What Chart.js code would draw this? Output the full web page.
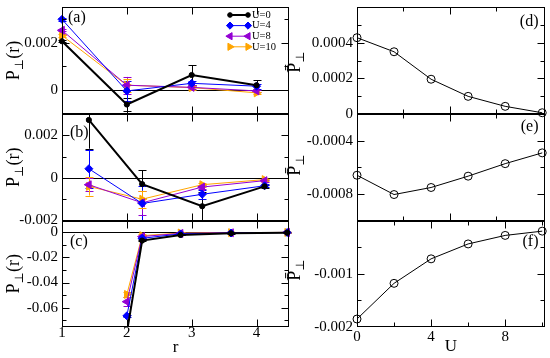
<!DOCTYPE html>
<html><head><meta charset="utf-8">
<script src="https://cdn.jsdelivr.net/npm/chart.js@4"></script>
<style>
html,body{margin:0;padding:0;background:#fff;}
#wrap{position:relative;width:550px;height:358px;overflow:hidden;}
canvas{position:absolute;left:0;top:0;}
</style></head><body>
<div id="wrap">
<canvas id="ca" width="550" height="358"></canvas>
<canvas id="cb" width="550" height="358"></canvas>
<canvas id="cc" width="550" height="358"></canvas>
<canvas id="cd" width="550" height="358"></canvas>
<canvas id="ce" width="550" height="358"></canvas>
<canvas id="cf" width="550" height="358"></canvas>
</div>
<script>
// ---------------- data ----------------
const seriesNames = ['U=0', 'U=4', 'U=8', 'U=10'];

// panel (a)
const rA = [1, 2, 3, 4];
const aU0 = [0.00206, -0.00060, 0.00064, 0.00021];
const aU4 = [0.00298, -0.00003, 0.00029, 0.00017];
const aU8 = [0.00252, 0.00021, 0.00012, -0.00003];
const aU10 = [0.00230, 0.00021, 0.00011, -0.00011];
const aErrU0 = [0.00005, 0.00028, 0.00040, 0.00021];
const aErrU4 = [0.00005, 0.00043, 0.00010, 0.00010];
const aErrU8 = [0.00005, 0.00035, 0.00008, 0.00005];
const aErrU10 = [0.00005, 0.00028, 0.00008, 0.00005];

// panel (b)
const rB = [1.414, 2.236, 3.162, 4.123];
const bU0 = [0.00272, -0.00029, -0.00133, -0.00040];
const bU4 = [0.00043, -0.00120, -0.00077, -0.00037];
const bU8 = [-0.00032, -0.00117, -0.00043, -0.00013];
const bU10 = [-0.00040, -0.00100, -0.00032, -0.00008];
const bErrU0 = [0.00135, 0.00066, 0.00067, 0.00008];
const bErrU4 = [0.00090, 0.00080, 0.00020, 0.00008];
const bErrU8 = [0.00030, 0.00056, 0.00010, 0.00005];
const bErrU10 = [0.00043, 0.00040, 0.00010, 0.00005];

// panel (c)
const rC = [2, 2.236, 2.828, 3.606, 4.472];
const cU0 = [-0.0800, -0.0065, -0.0020, -0.0007, -0.0002];
const cU4 = [-0.0666, -0.0047, -0.0012, -0.0005, -0.0001];
const cU8 = [-0.0553, -0.0033, -0.0008, -0.0003, 0.0000];
const cU10 = [-0.0495, -0.0026, -0.0005, -0.0002, 0.0000];
const cErrU0 = [0.0005, 0.0005, 0.0003, 0.0003, 0.0003];
const cErrU4 = [0.0010, 0.0006, 0.0003, 0.0003, 0.0003];
const cErrU8 = [0.0035, 0.0008, 0.0004, 0.0004, 0.0004];
const cErrU10 = [0.0022, 0.0010, 0.0006, 0.0006, 0.0006];

// panels (d) (e) (f)
const uVals = [0, 2, 4, 6, 8, 10];
const dVals = [0.000428, 0.000349, 0.000195, 0.000099, 0.000043, 0.000007];
const eVals = [-0.000660, -0.000805, -0.000752, -0.000667, -0.000573, -0.000492];
const fVals = [-0.00185, -0.00118, -0.00072, -0.00044, -0.00028, -0.00020];

// tick values / labels
const xTicksLeft = [1, 2, 3, 4];
const xLabelsLeft = ['1', '2', '3', '4'];
const xTicksRight = [0, 4, 8];
const xLabelsRight = ['0', '4', '8'];
const yTicksA = [0, 0.002];            const yLabelsA = ['0', '0.002'];
const yTicksB = [-0.002, 0, 0.002];    const yLabelsB = ['-0.002', '0', '0.002'];
const yTicksC = [-0.06, -0.04, -0.02, 0]; const yLabelsC = ['-0.06', '-0.04', '-0.02', '0'];
const yTicksD = [0, 0.0002, 0.0004];   const yLabelsD = ['0', '0.0002', '0.0004'];
const yTicksE = [-0.0008, -0.0004];    const yLabelsE = ['-0.0008', '-0.0004'];
const yTicksF = [-0.002, -0.001];      const yLabelsF = ['-0.002', '-0.001'];

// ---------------- styling ----------------
const SERIF = "'Liberation Serif', 'Times New Roman', serif";
const seriesStyle = [
  {color: '#000000', width: 2, style: 'circle', radius: 2.6, rot: 0},
  {color: '#0000ff', width: 1, style: 'rectRot', radius: 4, rot: 0},
  {color: '#9400d3', width: 1, style: 'triangle', radius: 4.6, rot: -90},
  {color: '#ffa500', width: 1, style: 'triangle', radius: 4.6, rot: 90}
];

function pts(xs, ys) { return xs.map((x, i) => ({x: x, y: ys[i]})); }

function leftSets(xs, series, errs) {
  return series.map((ys, k) => {
    const s = seriesStyle[k];
    return {
      label: seriesNames[k], data: pts(xs, ys), errorBars: errs[k],
      borderColor: s.color, borderWidth: s.width, backgroundColor: s.color,
      pointStyle: s.style, pointRadius: s.radius, pointRotation: s.rot,
      pointBackgroundColor: s.color, pointBorderColor: s.color, pointBorderWidth: 1,
      tension: 0, clip: {left: 8, right: 8, top: 0, bottom: 0}
    };
  });
}
function rightSet(ys) {
  return [{
    label: 'Pbar', data: pts(uVals, ys), borderColor: '#000', borderWidth: 1,
    pointStyle: 'circle', pointRadius: 4, pointBackgroundColor: 'rgba(0,0,0,0)',
    pointBorderColor: '#000', pointBorderWidth: 1, tension: 0, clip: false
  }];
}

// ---------------- plugins ----------------
const framePlugin = {
  id: 'frame',
  beforeDatasetsDraw(chart, args, o) {
    const {ctx, chartArea: a} = chart;
    const ys = chart.scales.y;
    ctx.save();
    if (o.zero) {
      const py = Math.round(ys.getPixelForValue(0)) + 0.5;
      ctx.strokeStyle = '#000'; ctx.lineWidth = 1;
      ctx.beginPath(); ctx.moveTo(a.left, py); ctx.lineTo(a.right, py); ctx.stroke();
    }
    // error bars
    ctx.beginPath(); ctx.rect(a.left - 10, a.top, a.right - a.left + 20, a.bottom - a.top); ctx.clip();
    chart.data.datasets.forEach((ds, i) => {
      if (!ds.errorBars) return;
      const meta = chart.getDatasetMeta(i);
      ctx.strokeStyle = ds.borderColor; ctx.lineWidth = 1;
      meta.data.forEach((el, j) => {
        const v = ds.data[j].y, e = ds.errorBars[j];
        const x = Math.round(el.x) + 0.5;
        const y1 = ys.getPixelForValue(v + e), y2 = ys.getPixelForValue(v - e);
        ctx.beginPath();
        ctx.moveTo(x, y1); ctx.lineTo(x, y2);
        ctx.moveTo(x - 4, Math.round(y1) + 0.5); ctx.lineTo(x + 4, Math.round(y1) + 0.5);
        ctx.moveTo(x - 4, Math.round(y2) + 0.5); ctx.lineTo(x + 4, Math.round(y2) + 0.5);
        ctx.stroke();
      });
    });
    ctx.restore();
  },
  afterDatasetsDraw(chart, args, o) {
    const {ctx, chartArea: a} = chart;
    const xs = chart.scales.x, ys = chart.scales.y;
    ctx.save();
    ctx.strokeStyle = '#000'; ctx.lineWidth = 1;
    const L = Math.round(a.left) + 0.5, R = Math.round(a.right) - 0.5;
    const T = Math.round(a.top) + 0.5, B = Math.round(a.bottom) - 0.5;
    ctx.strokeRect(L, T, R - L, B - T);
    ctx.beginPath();
    const xt = (list, len) => (list || []).forEach(v => {
      const p = Math.round(xs.getPixelForValue(v)) + 0.5;
      ctx.moveTo(p, B); ctx.lineTo(p, B - len);
      ctx.moveTo(p, T); ctx.lineTo(p, T + len);
    });
    const yt = (list, len) => (list || []).forEach(v => {
      const p = Math.round(ys.getPixelForValue(v)) + 0.5;
      if (p < T - 0.1 || p > B + 0.1) return;
      ctx.moveTo(L, p); ctx.lineTo(L + len, p);
      ctx.moveTo(R, p); ctx.lineTo(R - len, p);
    });
    xt(o.xMajor, 7); xt(o.xMinor, 4); yt(o.yMajor, 7); yt(o.yMinor, 4);
    ctx.stroke();
    ctx.restore();
  },
  afterDraw(chart, args, o) {
    const ctx = chart.ctx;
    ctx.save();
    ctx.fillStyle = '#000';
    if (o.tag) {
      ctx.font = '16px ' + SERIF;
      ctx.textBaseline = 'middle'; ctx.textAlign = o.tagAlign || 'left';
      ctx.fillText(o.tag, o.tagX, o.tagY);
    }
    if (o.yTitle) {
      const t = o.yTitle;
      const fMain = '18px ' + SERIF, fSub = "12px 'DejaVu Serif', serif";
      ctx.translate(t.x, t.y); ctx.rotate(-Math.PI / 2);
      ctx.textAlign = 'left'; ctx.textBaseline = 'alphabetic';
      ctx.font = fMain; const w1 = ctx.measureText(t.main).width; const w3 = ctx.measureText(t.rest).width;
      ctx.font = fSub; const w2 = ctx.measureText(t.sub).width;
      const x0 = -(w1 + w2 + w3) / 2, base = 6;
      ctx.font = fMain; ctx.fillText(t.main, x0, base);
      ctx.font = fSub; ctx.fillText(t.sub, x0 + w1, base + 4);
      ctx.font = fMain; ctx.fillText(t.rest, x0 + w1 + w2, base);
    }
    ctx.restore();
    if (o.legend) {
      const g = o.legend;
      chart.data.datasets.forEach((ds, i) => {
        const y = g.y0 + i * g.dy;
        ctx.save();
        ctx.strokeStyle = ds.borderColor; ctx.lineWidth = ds.borderWidth;
        ctx.beginPath(); ctx.moveTo(g.x0, y); ctx.lineTo(g.x1, y); ctx.stroke();
        ctx.fillStyle = ds.pointBackgroundColor; ctx.strokeStyle = ds.pointBorderColor; ctx.lineWidth = 1;
        [g.x0, g.x1].forEach(px => {
          Chart.helpers.drawPoint(ctx, {pointStyle: ds.pointStyle, radius: ds.pointRadius * 0.9,
            rotation: ds.pointRotation || 0, borderWidth: 1}, px, y);
        });
        ctx.fillStyle = '#000';
        ctx.font = '10.5px ' + SERIF; ctx.textAlign = 'left'; ctx.textBaseline = 'middle';
        ctx.fillText(ds.label, g.tx, y);
        ctx.restore();
      });
    }
  }
};
Chart.register(framePlugin);

// ---------------- chart factory ----------------
const YW = 60, XH = 31;
function makeChart(id, c) {
  const scales = {
    x: {
      type: 'linear', min: c.xMin, max: c.xMax, display: c.showX,
      grid: {display: false, drawTicks: false, tickLength: 0}, border: {display: false},
      afterBuildTicks: s => { s.ticks = c.xTicks.map(v => ({value: v})); },
      ticks: {callback: (v, i) => c.xLabels[i], font: {family: SERIF, size: 15}, color: '#000',
              padding: c.xPad || 0, maxRotation: 0, autoSkip: false},
      title: {display: !!c.xTitle, text: c.xTitle || '', font: {family: SERIF, size: 17}, color: '#000',
              padding: {top: 0, bottom: c.xTitlePad || 0}}
    },
    y: {
      type: 'linear', min: c.yMin, max: c.yMax, display: true,
      grid: {display: false, drawTicks: false, tickLength: 0}, border: {display: false},
      afterBuildTicks: s => { s.ticks = c.yTicks.map(v => ({value: v})); },
      afterFit: s => { s.width = YW; s.paddingTop = 0; s.paddingBottom = 0; },
      ticks: {callback: (v, i) => c.yLabels[i], font: {family: SERIF, size: 15}, color: '#000',
              padding: 4, autoSkip: false}
    }
  };
  if (c.showX) scales.x.afterFit = s => { s.height = XH; s.paddingLeft = 0; s.paddingRight = 0; };
  return new Chart(document.getElementById(id), {
    type: 'line',
    data: {datasets: c.datasets},
    options: {
      responsive: false, animation: false, events: [],
      layout: {padding: {left: c.left - YW, right: 550 - c.right, top: c.top,
                         bottom: c.showX ? 358 - c.bottom - XH : 358 - c.bottom}},
      plugins: {legend: {display: false}, tooltip: {enabled: false}, frame: c.frame},
      scales: scales
    }
  });
}

const LX0 = 62, LX1 = 289, RX0 = 357, RX1 = 548;
const R1 = [7, 114], R2 = [114, 220.5], R3 = [220.5, 327];
const titleLeft = {main: 'P', sub: '\u22a5', rest: '(r)'};
const titleRight = {main: 'P\u0304', sub: '\u22a5', rest: ''};

makeChart('ca', {
  left: LX0, right: LX1, top: R1[0], bottom: R1[1], showX: false,
  xMin: 1, xMax: 4.5, xTicks: xTicksLeft, xLabels: xLabelsLeft,
  yMin: -0.001, yMax: 0.0035, yTicks: yTicksA, yLabels: yLabelsA,
  datasets: leftSets(rA, [aU0, aU4, aU8, aU10], [aErrU0, aErrU4, aErrU8, aErrU10]),
  frame: {zero: true, xMajor: [2, 3, 4], yMajor: [0, 0.002], yMinor: [-0.001, 0.001, 0.003],
          tag: '(a)', tagX: 68, tagY: 17.5,
          yTitle: Object.assign({x: 13, y: (R1[0] + R1[1]) / 2}, titleLeft),
          legend: {x0: 230, x1: 248, tx: 252, y0: 15, dy: 10.6}}
});
makeChart('cb', {
  left: LX0, right: LX1, top: R2[0], bottom: R2[1], showX: false,
  xMin: 1, xMax: 4.5, xTicks: xTicksLeft, xLabels: xLabelsLeft,
  yMin: -0.002, yMax: 0.003, yTicks: yTicksB, yLabels: yLabelsB,
  datasets: leftSets(rB, [bU0, bU4, bU8, bU10], [bErrU0, bErrU4, bErrU8, bErrU10]),
  frame: {zero: true, xMajor: [2, 3, 4], yMajor: [-0.002, 0, 0.002], yMinor: [-0.001, 0.001],
          tag: '(b)', tagX: 70, tagY: 132.5,
          yTitle: Object.assign({x: 13, y: (R2[0] + R2[1]) / 2}, titleLeft)}
});
makeChart('cc', {
  left: LX0, right: LX1, top: R3[0], bottom: R3[1], showX: true, xTitle: 'r', xPad: -3, xTitlePad: 0,
  xMin: 1, xMax: 4.5, xTicks: xTicksLeft, xLabels: xLabelsLeft,
  yMin: -0.0755, yMax: 0.0095, yTicks: yTicksC, yLabels: yLabelsC,
  datasets: leftSets(rC, [cU0, cU4, cU8, cU10], [cErrU0, cErrU4, cErrU8, cErrU10]),
  frame: {zero: true, xMajor: [2, 3, 4], yMajor: [0, -0.02, -0.04, -0.06], yMinor: [-0.01, -0.03, -0.05, -0.07],
          tag: '(c)', tagX: 70, tagY: 241.7,
          yTitle: Object.assign({x: 13, y: (R3[0] + R3[1]) / 2}, titleLeft)}
});
makeChart('cd', {
  left: RX0, right: RX1, top: R1[0], bottom: R1[1], showX: false,
  xMin: 0, xMax: 10.15, xTicks: xTicksRight, xLabels: xLabelsRight,
  yMin: 0, yMax: 0.0006, yTicks: yTicksD, yLabels: yLabelsD,
  datasets: rightSet(dVals),
  frame: {xMajor: [5], xMinor: [2.5, 7.5], yMajor: [0.0002, 0.0004], yMinor: [0.0001, 0.0003, 0.0005],
          tag: '(d)', tagX: 538.5, tagY: 21.7, tagAlign: 'right',
          yTitle: Object.assign({x: 294, y: 62}, titleRight)}
});
makeChart('ce', {
  left: RX0, right: RX1, top: R2[0], bottom: R2[1], showX: false,
  xMin: 0, xMax: 10.15, xTicks: xTicksRight, xLabels: xLabelsRight,
  yMin: -0.001, yMax: -0.0002, yTicks: yTicksE, yLabels: yLabelsE,
  datasets: rightSet(eVals),
  frame: {xMajor: [5], xMinor: [2.5, 7.5], yMajor: [-0.0004, -0.0008], yMinor: [-0.0006],
          tag: '(e)', tagX: 538.5, tagY: 127, tagAlign: 'right',
          yTitle: Object.assign({x: 294, y: 165}, titleRight)}
});
makeChart('cf', {
  left: RX0, right: RX1, top: R3[0], bottom: R3[1], showX: true, xTitle: 'U', xPad: 1, xTitlePad: 1,
  xMin: 0, xMax: 10.15, xTicks: xTicksRight, xLabels: xLabelsRight,
  yMin: -0.002, yMax: 0, yTicks: yTicksF, yLabels: yLabelsF,
  datasets: rightSet(fVals),
  frame: {xMajor: [4, 8], xMinor: [2, 6, 10], yMajor: [-0.001], yMinor: [-0.0005, -0.0015],
          tag: '(f)', tagX: 538.5, tagY: 241.5, tagAlign: 'right',
          yTitle: Object.assign({x: 294, y: 270}, titleRight)}
});
</script>
</body></html>
